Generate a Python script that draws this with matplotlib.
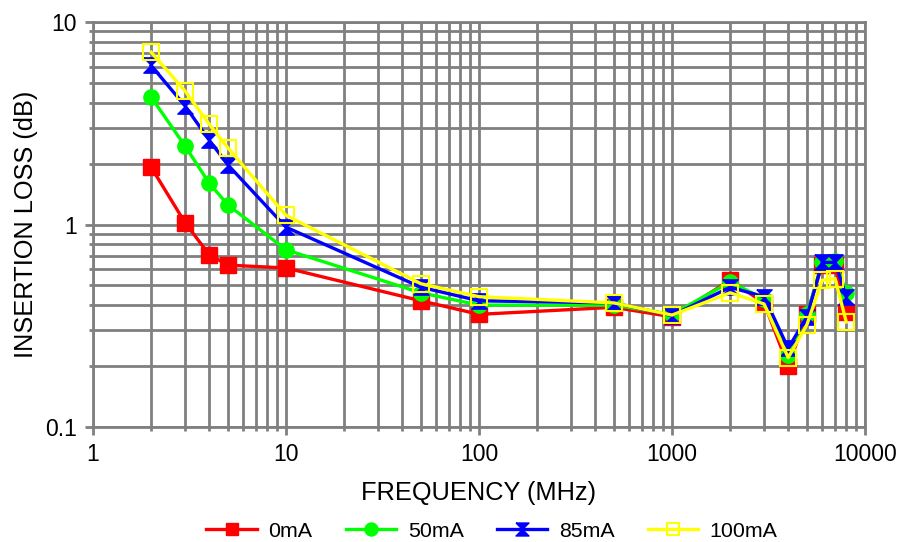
import matplotlib
matplotlib.use("Agg")
import matplotlib.pyplot as plt
from matplotlib.ticker import FixedLocator, LogLocator, NullFormatter, FuncFormatter

plt.rcParams["font.family"] = ["Liberation Sans", "DejaVu Sans"]

freq_mhz = [2, 3, 4, 5, 10, 50, 100, 500, 1000, 2000, 3000, 4000, 5000, 6000, 7000, 8000]
loss_0ma = [1.92, 1.02, 0.71, 0.63, 0.61, 0.42, 0.36, 0.39, 0.35, 0.53, 0.41, 0.20, 0.36, 0.63, 0.63, 0.37]
loss_50ma = [4.26, 2.44, 1.60, 1.25, 0.75, 0.46, 0.40, 0.40, 0.36, 0.52, 0.43, 0.227, 0.36, 0.65, 0.66, 0.46]
loss_85ma = [6.1, 3.85, 2.61, 1.97, 0.97, 0.49, 0.42, 0.41, 0.355, 0.49, 0.44, 0.245, 0.35, 0.65, 0.65, 0.44]
loss_100ma = [7.1, 4.56, 3.13, 2.39, 1.11, 0.51, 0.44, 0.41, 0.357, 0.46, 0.405, 0.22, 0.32, 0.53, 0.54, 0.33]

labels = ["0mA", "50mA", "85mA", "100mA"]
x_ticks = [1, 10, 100, 1000, 10000]
y_ticks = [0.1, 1, 10]

GRID = "#808080"
FS = 16.5

# hourglass marker for the 85mA trace
hourglass = [(-1, 1), (1, 1), (-1, -1), (1, -1), (-1, 1)]

fig = plt.figure(figsize=(9.01, 5.42), dpi=100)
ax = fig.add_axes([93 / 901, 1 - 427 / 542, (865 - 93) / 901, (427 - 22) / 542])

ax.plot(freq_mhz, loss_0ma, color="#ff0000", lw=2.4, marker="s", ms=11,
        mfc="#ff0000", mec="#ff0000", label=labels[0], zorder=3)
ax.plot(freq_mhz, loss_50ma, color="#00ff00", lw=2.4, marker="o", ms=11,
        mfc="#00ff00", mec="#00ff00", label=labels[1], zorder=4)
ax.plot(freq_mhz, loss_85ma, color="#0000ff", lw=2.4, marker=hourglass, ms=11,
        mfc="#0000ff", mec="#0000ff", label=labels[2], zorder=5)
ax.plot(freq_mhz, loss_100ma, color="#ffff00", lw=2.4, marker="s", ms=11,
        mfc="none", mec="#ffff00", mew=1.5, label=labels[3], zorder=6)

ax.set_xscale("log")
ax.set_yscale("log")
ax.set_xlim(1, 10000)
ax.set_ylim(0.1, 10)

fmt = FuncFormatter(lambda v, _: f"{v:g}")
ax.xaxis.set_major_locator(FixedLocator(x_ticks))
ax.yaxis.set_major_locator(FixedLocator(y_ticks))
ax.xaxis.set_major_formatter(fmt)
ax.yaxis.set_major_formatter(fmt)
ax.xaxis.set_minor_locator(LogLocator(base=10, subs=range(2, 10), numticks=20))
ax.yaxis.set_minor_locator(LogLocator(base=10, subs=range(2, 10), numticks=20))
ax.xaxis.set_minor_formatter(NullFormatter())
ax.yaxis.set_minor_formatter(NullFormatter())

ax.grid(True, which="both", color=GRID, lw=2.0, zorder=1)
ax.set_axisbelow(True)
for sp in ax.spines.values():
    sp.set_color(GRID)
    sp.set_linewidth(2.0)
ax.tick_params(which="major", length=5.5, width=2.0, color=GRID, labelsize=FS, pad=6)
ax.tick_params(which="minor", length=3, width=2.0, color=GRID)

ax.set_xlabel("FREQUENCY (MHz)", fontsize=18.3, labelpad=11)
ax.set_ylabel("INSERTION LOSS (dB)", fontsize=18.3, labelpad=5)

fig.legend(loc="center", bbox_to_anchor=(0.546, 0.02), ncol=4, frameon=False,
           fontsize=15.4, handlelength=2.35, handletextpad=0.55, columnspacing=1.55,
           markerscale=0.85)

fig.savefig("out.png", dpi=100, facecolor="white")
